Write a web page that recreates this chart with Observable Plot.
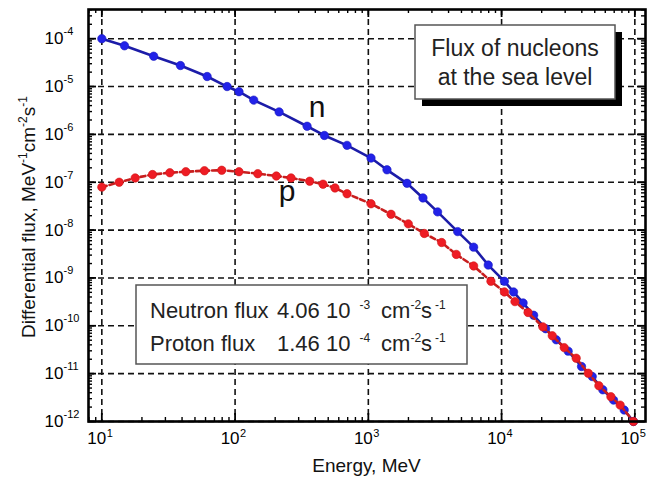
<!DOCTYPE html>
<html><head><meta charset="utf-8">
<script src="https://cdn.jsdelivr.net/npm/d3@7"></script>
<script src="https://cdn.jsdelivr.net/npm/@observablehq/plot@0.6"></script>
<style>
body{margin:0;background:#fff;}
#chart svg{display:block;}
</style></head><body><div id="chart"></div>
<script>
// ---- data ----
const neutronE = [10, 14.8, 24.5, 38.9, 61.7, 87.1, 107, 138, 214, 347, 468, 692, 1047, 1380, 1950, 2570, 3310, 4680, 6170, 7940, 10500, 12300, 14500, 17400, 21400, 25700, 31600, 39800, 47900, 57500, 69200, 83200, 97700];
const neutronFlux = [1.0e-4, 7.1e-5, 4.3e-5, 2.75e-5, 1.62e-5, 1.0e-5, 7.8e-6, 5.2e-6, 2.95e-6, 1.48e-6, 9.5e-7, 5.9e-7, 3.2e-7, 1.82e-7, 9.5e-8, 4.7e-8, 2.4e-8, 9.3e-9, 4.4e-9, 1.86e-9, 8.5e-10, 5.1e-10, 3.0e-10, 1.66e-10, 8.7e-11, 5.1e-11, 2.95e-11, 1.41e-11, 8.7e-12, 4.6e-12, 2.8e-12, 1.74e-12, 1.0e-12];
const protonE = [10, 13.5, 17.8, 24.0, 32.4, 42.7, 58.9, 79.4, 107, 148, 204, 263, 363, 457, 562, 692, 1047, 1480, 1995, 2630, 3550, 4570, 6170, 8320, 10500, 12600, 15800, 20400, 24000, 29500, 36300, 44700, 53700, 66100, 77600, 97700];
const protonFlux = [7.9e-8, 1.0e-7, 1.23e-7, 1.45e-7, 1.58e-7, 1.66e-7, 1.74e-7, 1.78e-7, 1.66e-7, 1.51e-7, 1.35e-7, 1.23e-7, 1.05e-7, 9.1e-8, 7.6e-8, 5.75e-8, 3.55e-8, 2.14e-8, 1.35e-8, 8.5e-9, 5.5e-9, 3.1e-9, 1.78e-9, 8.5e-10, 5.1e-10, 3.2e-10, 1.9e-10, 9.5e-11, 6.2e-11, 3.5e-11, 2.1e-11, 1.02e-11, 5.6e-12, 3.3e-12, 2.2e-12, 1.0e-12];

const xMajor = [10, 100, 1000, 10000, 100000];
const xExp = ["1", "2", "3", "4", "5"];
const yMajor = [1e-12, 1e-11, 1e-10, 1e-9, 1e-8, 1e-7, 1e-6, 1e-5, 1e-4];
const yExp = ["-12", "-11", "-10", "-9", "-8", "-7", "-6", "-5", "-4"];
const mult = [2, 3, 4, 5, 6, 7, 8, 9];
const xDecades = [1, 10, 100, 1000, 10000];
const yDecades = [1e-12, 1e-11, 1e-10, 1e-9, 1e-8, 1e-7, 1e-6, 1e-5, 1e-4];

const xLabel = "Energy, MeV";
const boxTitle = ["Flux of nucleons", "at the sea level"];
const fluxNames = ["Neutron flux", "Proton flux"];
const fluxValues = ["4.06", "1.46"];
const fluxExps = ["-3", "-4"];

// ---- build tables ----
const neutrons = neutronE.map((e, i) => ({E: e, flux: neutronFlux[i]}));
const protons = protonE.map((e, i) => ({E: e, flux: protonFlux[i]}));
const xDomain = [10 ** 0.9, 10 ** 5.08];
const yDomain = [1e-12, 10 ** -3.39];
const xMinor = xDecades.flatMap(d => mult.map(m => d * m)).filter(v => v > xDomain[0] && v < xDomain[1]);
const yMinor = yDecades.flatMap(d => mult.map(m => d * m)).filter(v => v > yDomain[0] && v < yDomain[1]);

const W = 662, H = 481, mL = 88, mR = 17, mT = 9, mB = 60;
const innerH = H - mT - mB, innerW = W - mL - mR;
const font = "'Liberation Sans', Arial, Helvetica, sans-serif";
const dash = "6,4";

const chart = Plot.plot({
  width: W, height: H,
  marginLeft: mL, marginRight: mR, marginTop: mT, marginBottom: mB,
  style: {fontFamily: font, background: "white", color: "black", overflow: "visible"},
  x: {type: "log", domain: xDomain, axis: null},
  y: {type: "log", domain: yDomain, axis: null},
  marks: [
    Plot.ruleX(xMajor, {stroke: "#111", strokeWidth: 1.6, strokeDasharray: dash}),
    Plot.ruleY(yMajor, {stroke: "#111", strokeWidth: 1.6, strokeDasharray: dash}),
    // inward minor ticks
    Plot.tickX(xMinor, {insetBottom: innerH - 4, stroke: "#000", strokeWidth: 1.4}),
    Plot.tickX(xMinor, {insetTop: innerH - 4, stroke: "#000", strokeWidth: 1.4}),
    Plot.tickY(yMinor, {insetRight: innerW - 4, stroke: "#000", strokeWidth: 1.4}),
    Plot.tickY(yMinor, {insetLeft: innerW - 4, stroke: "#000", strokeWidth: 1.4}),
    // inward major ticks
    Plot.tickX(xMajor, {insetBottom: innerH - 8, stroke: "#000", strokeWidth: 1.8}),
    Plot.tickX(xMajor, {insetTop: innerH - 8, stroke: "#000", strokeWidth: 1.8}),
    Plot.tickY(yMajor, {insetRight: innerW - 8, stroke: "#000", strokeWidth: 1.8}),
    Plot.tickY(yMajor, {insetLeft: innerW - 8, stroke: "#000", strokeWidth: 1.8}),
    // series
    Plot.line(neutrons, {x: "E", y: "flux", stroke: "#1c1ca8", strokeWidth: 2.6}),
    Plot.dot(neutrons, {x: "E", y: "flux", r: 4.2, fill: "#2222e8", stroke: "#1a1ac0", strokeWidth: 0.6}),
    Plot.line(protons, {x: "E", y: "flux", stroke: "#c81e1e", strokeWidth: 2.6, strokeDasharray: "5,3"}),
    Plot.dot(protons, {x: "E", y: "flux", r: 4.2, fill: "#ee1c24", stroke: "#d01414", strokeWidth: 0.6}),
    Plot.frame({stroke: "#000", strokeWidth: 2.6}),
    // tick labels
    Plot.text(xMajor, {x: d => d, text: () => "10", frameAnchor: "bottom", dy: 22, dx: -5, fontSize: 17}),
    Plot.text(xMajor, {x: d => d, text: (d, i) => xExp[i], frameAnchor: "bottom", dy: 15, dx: 5, textAnchor: "start", fontSize: 11}),
    Plot.text(yMajor, {y: d => d, text: () => "10", frameAnchor: "left", dx: -25, textAnchor: "end", fontSize: 17}),
    Plot.text(yMajor, {y: d => d, text: (d, i) => yExp[i], frameAnchor: "left", dx: -25, dy: -7, textAnchor: "start", fontSize: 11})
  ]
});
document.getElementById("chart").appendChild(chart);

// ---- annotations (text with superscripts) ----
const svg = d3.select(chart);
function rich(g, parts, attrs) {
  const t = g.append("text").attr("font-family", font).attr("fill", "#111").attr("text-anchor", "start");
  for (const k in attrs) t.attr(k, attrs[k]);
  let shifted = 0;
  for (const p of parts) {
    const s = t.append("tspan").text(p.t);
    if (p.x != null) s.attr("x", p.x);
    if (p.sup) {
      s.attr("font-size", p.size || 12).attr("dy", -p.sup + shifted);
      shifted = p.sup;
    } else if (shifted) {
      s.attr("dy", shifted); shifted = 0;
    }
    if (p.dx) s.attr("dx", p.dx);
  }
  return t;
}
const ann = svg.append("g");
// y-axis title
rich(ann, [
  {t: "Differential flux, MeV"}, {t: "-1", sup: 8}, {t: "cm"}, {t: "-2", sup: 8}, {t: "s"}, {t: "-1", sup: 8}
], {transform: "translate(35,217) rotate(-90)", "text-anchor": "middle", "font-size": 19});
// x-axis title
ann.append("text").attr("x", mL + innerW / 2).attr("y", 472).attr("text-anchor", "middle")
  .attr("font-family", font).attr("font-size", 19).attr("fill", "#111").text(xLabel);

// top-right title box
ann.append("rect").attr("x", 422).attr("y", 32).attr("width", 200).attr("height", 74).attr("fill", "#000");
ann.append("rect").attr("x", 415).attr("y", 25).attr("width", 200).attr("height", 74)
  .attr("fill", "#fff").attr("stroke", "#555").attr("stroke-width", 1.5);
boxTitle.forEach((s, i) => ann.append("text").attr("x", 515).attr("y", 56 + i * 29).attr("text-anchor", "middle")
  .attr("font-family", font).attr("font-size", 23).attr("fill", "#222").text(s));

// flux box
ann.append("rect").attr("x", 136).attr("y", 285).attr("width", 331).attr("height", 79)
  .attr("fill", "#fff").attr("stroke", "#555").attr("stroke-width", 1.5);
fluxNames.forEach((n, i) => {
  rich(ann, [
    {t: n}, {t: fluxValues[i] + " 10", x: 277}, {t: fluxExps[i], sup: 9, size: 12, dx: 9},
    {t: "cm", dx: 11}, {t: "-2", sup: 9, size: 12}, {t: "s"}, {t: "-1", sup: 9, size: 12, dx: 3}
  ], {x: 150, y: 318 + i * 33, "font-size": 22, fill: "#222"});
});

// curve labels
ann.append("text").attr("x", 317).attr("y", 117).attr("text-anchor", "middle")
  .attr("font-family", font).attr("font-size", 30).attr("fill", "#111").text("n");
ann.append("text").attr("x", 287).attr("y", 201).attr("text-anchor", "middle")
  .attr("font-family", font).attr("font-size", 30).attr("fill", "#111").text("p");
</script>
</body></html>
